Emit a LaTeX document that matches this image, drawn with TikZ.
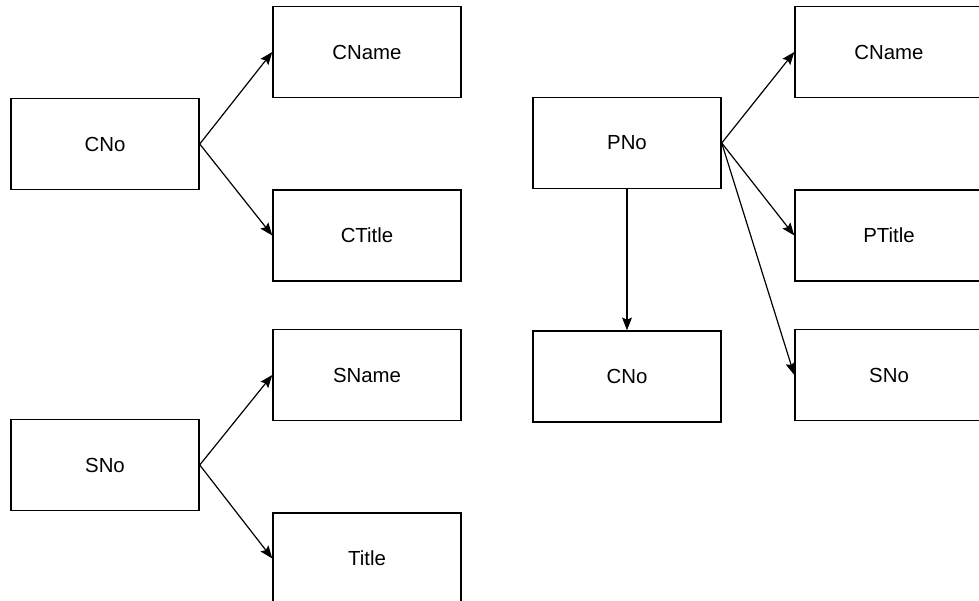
\documentclass[tikz,border=0pt]{standalone}
\usepackage{fontspec}
\setmainfont{Liberation Sans}
\usetikzlibrary{
  arrows.meta,
  positioning
}
\tikzset{
  % Attribute box: fixed size
  attr/.style={
    rectangle, draw=black, line width=1pt,
    minimum width=4.7cm, minimum height=2.275cm,
    inner sep=0pt, font=\fontsize{14.5}{17}\selectfont
  },
  % Dependency arrow
  dep/.style={
    -{Stealth[length=9pt,width=7pt,inset=1.5pt]},
    line width=0.85pt, color=black
  }
}
\begin{document}
\begin{tikzpicture}[x=0.025cm, y=-0.025cm, node distance=2.275cm]
  \useasboundingbox (0,0) rectangle (979,600);
  \clip (0,0) rectangle (979,600);

  % CNo determines CName and CTitle
  \node[attr] (cno)   at (105,144) {CNo};
  \node[attr] (cname) at (367,52)  {CName};
  \node[attr, below=of cname] (ctitle) {CTitle};

  % SNo determines SName and Title
  \node[attr] (sno)   at (105,465) {SNo};
  \node[attr] (sname) at (367,375) {SName};
  \node[attr, below=of sname] (title) {Title};

  % PNo determines the rest
  \node[attr] (pno)    at (627,143) {PNo};
  \node[attr] (pcname) at (889,52)  {CName};
  \node[attr, below=of pcname] (ptitle) {PTitle};
  \node[attr] (psno)   at (889,375) {SNo};
  \node[attr, below=3.525cm of pno] (pcno) {CNo};

  \draw[dep] (cno.east) -- (cname.west);
  \draw[dep] (cno.east) -- (ctitle.west);
  \draw[dep] (sno.east) -- (sname.west);
  \draw[dep] (sno.east) -- (title.west);
  \draw[dep] (pno.east) -- (pcname.west);
  \draw[dep] (pno.east) -- (ptitle.west);
  \draw[dep] (pno.east) -- (psno.west);
  \draw[dep] (pno.south) -- (pcno.north);
\end{tikzpicture}
\end{document}
